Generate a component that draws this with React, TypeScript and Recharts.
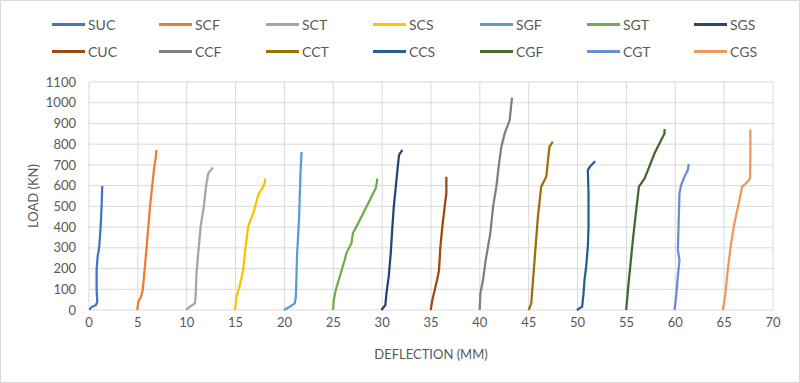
import { LineChart, Line, XAxis, YAxis, CartesianGrid } from "recharts"

// deflection (mm) vs load (kN)
const SUC = [
  { d: 0, load: 0 }, { d: 0.27, load: 14 }, { d: 0.72, load: 24 }, { d: 0.85, load: 40 },
  { d: 0.78, load: 96 }, { d: 0.78, load: 193 }, { d: 0.88, load: 257 }, { d: 1.05, load: 305 },
  { d: 1.19, load: 402 }, { d: 1.29, load: 498 }, { d: 1.33, load: 563 }, { d: 1.36, load: 598 },
]
const SCF = [
  { d: 4.94, load: 0 }, { d: 5.05, load: 40 }, { d: 5.32, load: 64 }, { d: 5.5, load: 96 },
  { d: 5.9, load: 305 }, { d: 6.24, load: 498 }, { d: 6.5, load: 611 }, { d: 6.64, load: 675 },
  { d: 6.84, load: 740 }, { d: 6.9, load: 772 },
]
const SCT = [
  { d: 9.92, load: 0 }, { d: 10.33, load: 16 }, { d: 10.84, load: 32 }, { d: 10.91, load: 64 },
  { d: 11.0, load: 177 }, { d: 11.18, load: 273 }, { d: 11.42, load: 402 }, { d: 11.75, load: 498 },
  { d: 11.97, load: 595 }, { d: 12.2, load: 659 }, { d: 12.7, load: 688 },
]
const SCS = [
  { d: 14.93, load: 0 }, { d: 15.1, load: 64 }, { d: 15.4, load: 113 }, { d: 15.78, load: 193 },
  { d: 16.02, load: 305 }, { d: 16.29, load: 402 }, { d: 16.53, load: 434 }, { d: 16.8, load: 466 },
  { d: 17.08, load: 514 }, { d: 17.38, load: 563 }, { d: 17.83, load: 595 }, { d: 18.03, load: 620 },
  { d: 18.0, load: 635 },
]
const SGF = [
  { d: 19.94, load: 0 }, { d: 20.55, load: 16 }, { d: 21.06, load: 32 }, { d: 21.17, load: 64 },
  { d: 21.3, load: 273 }, { d: 21.4, load: 354 }, { d: 21.5, load: 450 }, { d: 21.58, load: 563 },
  { d: 21.64, load: 659 }, { d: 21.75, load: 762 },
]
const SGT = [
  { d: 24.98, load: 0 }, { d: 25.05, load: 48 }, { d: 25.25, load: 96 }, { d: 25.66, load: 161 },
  { d: 26.17, load: 241 }, { d: 26.34, load: 273 }, { d: 26.5, load: 290 }, { d: 26.86, load: 322 },
  { d: 27.0, load: 370 }, { d: 27.54, load: 418 }, { d: 28.05, load: 466 }, { d: 28.73, load: 530 },
  { d: 29.34, load: 587 }, { d: 29.48, load: 620 }, { d: 29.48, load: 635 },
]
const SGS = [
  { d: 29.93, load: 0 }, { d: 30.33, load: 24 }, { d: 30.44, load: 80 }, { d: 30.67, load: 161 },
  { d: 30.88, load: 273 }, { d: 31.05, load: 402 }, { d: 31.19, load: 498 }, { d: 31.4, load: 595 },
  { d: 31.6, load: 691 }, { d: 31.73, load: 748 }, { d: 32.07, load: 772 },
]
const CUC = [
  { d: 34.97, load: 0 }, { d: 35.14, load: 48 }, { d: 35.38, load: 96 }, { d: 35.62, load: 145 },
  { d: 35.82, load: 193 }, { d: 35.96, load: 305 }, { d: 36.16, load: 402 }, { d: 36.44, load: 514 },
  { d: 36.57, load: 563 }, { d: 36.57, load: 643 },
]
const CCF = [
  { d: 39.98, load: 0 }, { d: 40.05, load: 80 }, { d: 40.32, load: 145 }, { d: 40.6, load: 241 },
  { d: 41.07, load: 370 }, { d: 41.35, load: 498 }, { d: 41.69, load: 595 }, { d: 41.92, load: 691 },
  { d: 42.2, load: 788 }, { d: 42.54, load: 852 }, { d: 43.05, load: 916 }, { d: 43.29, load: 1025 },
]
const CCT = [
  { d: 44.99, load: 0 }, { d: 45.26, load: 32 }, { d: 45.36, load: 96 }, { d: 45.6, load: 241 },
  { d: 45.94, load: 450 }, { d: 46.28, load: 595 }, { d: 46.8, load: 643 }, { d: 46.97, load: 723 },
  { d: 47.13, load: 788 }, { d: 47.47, load: 812 },
]
const CCS = [
  { d: 49.93, load: 0 }, { d: 50.47, load: 16 }, { d: 50.61, load: 80 }, { d: 50.71, load: 145 },
  { d: 50.88, load: 209 }, { d: 51.05, load: 305 }, { d: 51.12, load: 402 }, { d: 51.12, load: 563 },
  { d: 51.05, load: 675 }, { d: 51.3, load: 694 }, { d: 51.8, load: 718 },
]
const CGF = [
  { d: 54.98, load: 0 }, { d: 55.15, load: 96 }, { d: 55.39, load: 209 }, { d: 55.66, load: 338 },
  { d: 56.0, load: 482 }, { d: 56.28, load: 595 }, { d: 56.86, load: 635 }, { d: 57.2, load: 675 },
  { d: 57.88, load: 756 }, { d: 58.56, load: 820 }, { d: 58.9, load: 852 }, { d: 58.9, load: 873 },
]
const CGT = [
  { d: 59.92, load: 0 }, { d: 60.09, load: 64 }, { d: 60.26, load: 161 }, { d: 60.43, load: 241 },
  { d: 60.26, load: 290 }, { d: 60.33, load: 402 }, { d: 60.43, load: 563 }, { d: 60.6, load: 603 },
  { d: 60.94, load: 643 }, { d: 61.28, load: 675 }, { d: 61.38, load: 704 },
]
const CGS = [
  { d: 64.86, load: 0 }, { d: 65.13, load: 80 }, { d: 65.37, load: 193 }, { d: 65.71, load: 322 },
  { d: 66.05, load: 418 }, { d: 66.56, load: 530 }, { d: 66.84, load: 595 }, { d: 67.24, load: 611 },
  { d: 67.65, load: 635 }, { d: 67.68, load: 723 }, { d: 67.68, load: 871 },
]

const series = [
  { name: "SUC", data: SUC, color: "#4472C4" },
  { name: "SCF", data: SCF, color: "#ED7D31" },
  { name: "SCT", data: SCT, color: "#A5A5A5" },
  { name: "SCS", data: SCS, color: "#FFC000" },
  { name: "SGF", data: SGF, color: "#5B9BD5" },
  { name: "SGT", data: SGT, color: "#70AD47" },
  { name: "SGS", data: SGS, color: "#264478" },
  { name: "CUC", data: CUC, color: "#9E480E" },
  { name: "CCF", data: CCF, color: "#7F7F7F" },
  { name: "CCT", data: CCT, color: "#997300" },
  { name: "CCS", data: CCS, color: "#255E91" },
  { name: "CGF", data: CGF, color: "#43682B" },
  { name: "CGT", data: CGT, color: "#698ED0" },
  { name: "CGS", data: CGS, color: "#F1975A" },
]

const xTicks = [0, 5, 10, 15, 20, 25, 30, 35, 40, 45, 50, 55, 60, 65, 70]
const yTicks = [0, 100, 200, 300, 400, 500, 600, 700, 800, 900, 1000, 1100]

const font = "Lato, 'Open Sans', sans-serif"
const textColor = "#595959"

export default function App() {
  return (
    <div
      style={{
        position: "fixed",
        top: 0,
        left: 0,
        width: 800,
        height: 383,
        background: "#fff",
        border: "1px solid #d9d9d9",
        boxSizing: "border-box",
        fontFamily: font,
      }}
    >
      {series.map((s, i) => (
        <div
          key={s.name}
          style={{
            position: "absolute",
            left: 51 + (i % 7) * 107,
            top: i < 7 ? 14 : 41,
            display: "flex",
            alignItems: "center",
            height: 18,
            fontSize: 14,
            color: textColor,
          }}
        >
          <span style={{ width: 33, height: 3, background: s.color, marginRight: 3 }} />
          {s.name}
        </div>
      ))}
      <LineChart
        width={798}
        height={381}
        margin={{ top: 81, right: 26, left: 8, bottom: 22 }}
        style={{ position: "absolute", top: 0, left: 0 }}
      >
        <CartesianGrid stroke="#d9d9d9" />
        <XAxis
          type="number"
          dataKey="d"
          domain={[0, 70]}
          ticks={xTicks}
          interval={0}
          allowDataOverflow
          axisLine={false}
          tickLine={false}
          height={50}
          tick={{ fill: textColor, fontSize: 13, fontFamily: font }}
          label={{
            value: "DEFLECTION (MM)",
            position: "insideBottom",
            offset: 1,
            fill: textColor,
            fontSize: 13,
            fontFamily: font,
          }}
        />
        <YAxis
          type="number"
          dataKey="load"
          domain={[0, 1100]}
          ticks={yTicks}
          interval={0}
          axisLine={false}
          tickLine={false}
          tickMargin={7}
          width={80}
          tick={{ fill: textColor, fontSize: 13, fontFamily: font }}
          label={{
            value: "LOAD (KN)",
            angle: -90,
            position: "insideLeft",
            offset: 24,
            fill: textColor,
            fontSize: 13,
            fontFamily: font,
            style: { textAnchor: "middle" },
          }}
        />
        {series.map((s) => (
          <Line
            key={s.name}
            data={s.data}
            dataKey="load"
            name={s.name}
            type="linear"
            stroke={s.color}
            strokeWidth={2.25}
            dot={false}
            activeDot={false}
            isAnimationActive={false}
          />
        ))}
      </LineChart>
    </div>
  )
}
